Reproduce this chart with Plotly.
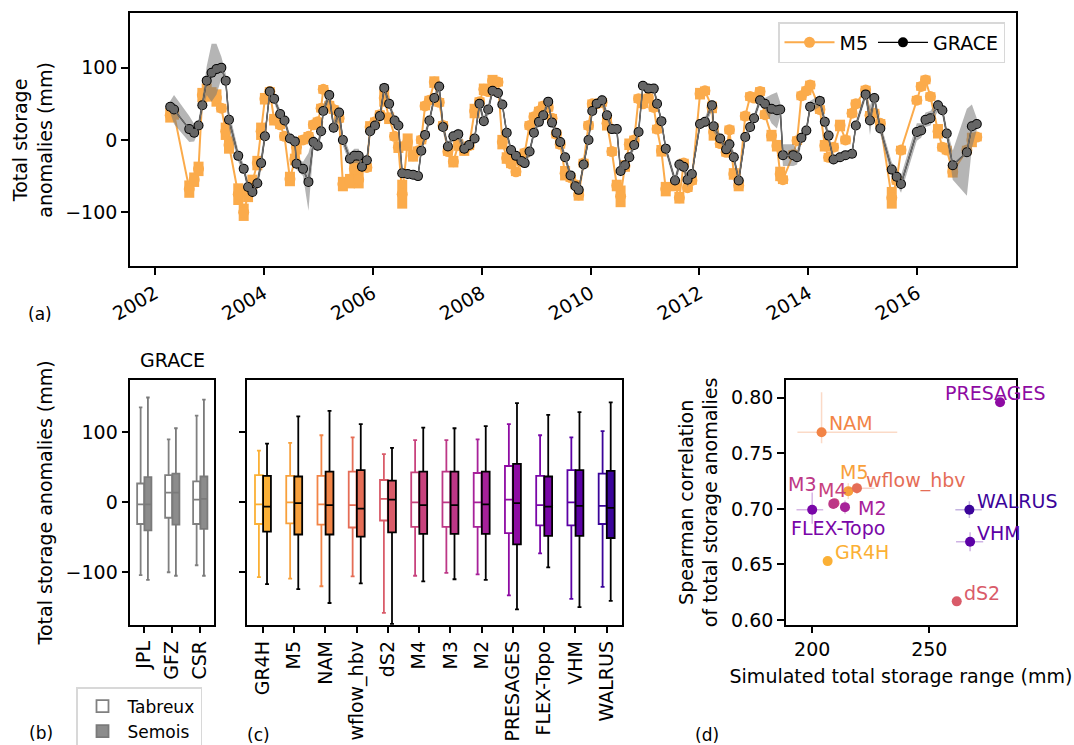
import pandas as pd
import plotly.graph_objects as go

# ---------------- data: panel (a) ----------------
grace_year = [2002.28, 2002.35, 2002.63, 2002.72, 2002.80, 2002.87, 2002.95, 2003.04, 2003.13, 2003.22,
              2003.30, 2003.36, 2003.53, 2003.63, 2003.71, 2003.79, 2003.88, 2003.95, 2004.02, 2004.11,
              2004.19, 2004.30, 2004.38, 2004.48, 2004.57, 2004.60, 2004.72, 2004.82, 2004.91, 2004.99,
              2005.05, 2005.09, 2005.20, 2005.28, 2005.38, 2005.45, 2005.58, 2005.66, 2005.74, 2005.80,
              2005.89, 2005.95, 2006.04, 2006.13, 2006.21, 2006.30, 2006.40, 2006.47, 2006.54, 2006.64,
              2006.74, 2006.83, 2006.89, 2006.96, 2007.04, 2007.13, 2007.22, 2007.29, 2007.38, 2007.48,
              2007.57, 2007.68, 2007.77, 2007.87, 2007.96, 2008.04, 2008.12, 2008.20, 2008.30, 2008.38,
              2008.46, 2008.54, 2008.63, 2008.73, 2008.79, 2008.88, 2008.96, 2009.05, 2009.13, 2009.22,
              2009.29, 2009.37, 2009.44, 2009.53, 2009.63, 2009.72, 2009.78, 2009.87, 2009.96, 2010.03,
              2010.11, 2010.21, 2010.30, 2010.39, 2010.48, 2010.55, 2010.63, 2010.71, 2010.80, 2010.88,
              2010.96, 2011.06, 2011.16, 2011.22, 2011.30, 2011.38, 2011.55, 2011.63, 2011.71, 2011.78,
              2011.86, 2012.01, 2012.10, 2012.23, 2012.26, 2012.38, 2012.49, 2012.55, 2012.63, 2012.72,
              2012.84, 2012.93, 2013.00, 2013.11, 2013.20, 2013.32, 2013.42, 2013.48, 2013.53, 2013.72,
              2013.79, 2013.87, 2013.96, 2014.03, 2014.21, 2014.30, 2014.37, 2014.46, 2014.58, 2014.68,
              2014.80, 2014.87, 2015.05, 2015.13, 2015.21, 2015.32, 2015.53, 2015.62, 2015.70, 2015.99,
              2016.07, 2016.15, 2016.24, 2016.38, 2016.46, 2016.54, 2016.65, 2016.91, 2017.00, 2017.09]

grace_tws = [46, 42, 15, 10, 20, 48, 82, 93, 98, 100,
             82, 28, -22, -40, -65, -72, -60, -32, 5, 67,
             57, 36, 27, 2, -2, -33, -40, -58, -3, -8,
             12, 40, 62, 17, 38, 0, -26, -22, -22, -37,
             -28, 12, 20, 33, 72, 50, 27, 20, -46, -47,
             -48, -50, -15, 7, 27, 58, 74, 18, -9, 5,
             8, -12, -7, 2, 50, 26, 42, 68, 65, 49,
             10, -14, -22, -29, -32, -16, 10, 25, 34, 53,
             24, 10, -3, -24, -49, -64, -69, -34, 0, 40,
             50, 55, 34, 15, 15, -43, -35, -24, -7, 11,
             75, 71, 71, 50, 26, -12, -56, -34, -37, -55,
             -47, 22, 25, 48, 19, 2, -13, -6, -24, -56,
             4, 18, 30, 55, 50, 43, 41, 42, -21, -21,
             -24, 3, 13, 46, 54, 25, 6, -27, -24, -21,
             -19, 20, 63, 27, 58, 16, -41, -51, -61, 11,
             13, 28, 30, 48, 41, 9, -35, -17, 19, 22]

grace_spread = [8, 20, 18, 12, 8, 10, 20, 40, 35, 15,
                10, 12, 8, 6, 8, 8, 8, 10, 8, 6,
                6, 6, 6, 6, 6, 8, 10, 40, 10, 8,
                8, 8, 6, 8, 10, 8, 8, 10, 10, 8,
                8, 8, 6, 6, 8, 6, 6, 6, 6, 6,
                6, 6, 6, 6, 6, 6, 8, 8, 6, 6,
                8, 8, 6, 6, 8, 6, 8, 6, 6, 6,
                6, 6, 6, 6, 6, 6, 6, 6, 6, 6,
                6, 6, 6, 6, 6, 6, 6, 6, 6, 6,
                6, 8, 6, 6, 6, 8, 6, 6, 6, 6,
                6, 6, 6, 6, 6, 6, 6, 8, 8, 10,
                6, 6, 6, 8, 8, 6, 6, 8, 8, 6,
                6, 6, 6, 6, 8, 20, 25, 10, 15, 15,
                10, 8, 8, 8, 8, 8, 6, 6, 6, 6,
                6, 6, 6, 20, 8, 8, 10, 10, 12, 12,
                10, 10, 10, 8, 8, 8, 20, 60, 30, 8]

m5_tws = [34, 36, -68, -55, -40, 62, 66, 63, 58, 44,
          12, -7, -75, -100, -76, -58, -32, 12, 57, 67,
          28, 21, 5, -54, -27, -10, 0, 5, 21, 25,
          44, 70, 48, 42, 30, -61, -57, -40, -55, -35,
          -38, 18, 25, 35, 58, 30, 5, -10, -75, -3,
          -22, -15, 0, 47, 55, 80, 52, 20, -16, -30,
          -7, -14, -8, 40, 53, 70, 67, 82, 80, -3,
          -25, -33, -44, -30, -18, 20, 32, 40, 47, 45,
          30, 8, -6, -46, -52, -62, -76, -32, 20, 50,
          50, 52, 23, -16, -63, -78, -36, -6, 0, 57,
          50, 58, 45, 15, -15, -68, -63, -80, -32, -66,
          -56, 64, 68, 45, 11, -5, -17, 14, -47, -63,
          33, 60, 58, 67, 35, 6, -8, -47, -55, -20,
          -1, 61, 68, 76, 42, -8, -24, -10, 20, 0,
          37, 50, 69, 34, 37, 23, -80, -56, -14, 55,
          74, 83, 60, 12, -10, -14, -44, -14, 0, 4]

m5_spread = [10, 8, 12, 10, 10, 10, 12, 10, 12, 6,
             12, 12, 15, 12, 10, 10, 10, 12, 8, 6,
             8, 6, 6, 10, 8, 10, 6, 6, 6, 6,
             6, 6, 6, 6, 6, 10, 10, 12, 12, 6,
             6, 8, 6, 6, 12, 8, 6, 8, 20, 12,
             8, 6, 6, 6, 6, 8, 6, 6, 6, 8,
             8, 8, 6, 10, 6, 8, 6, 8, 6, 10,
             8, 6, 6, 6, 6, 6, 6, 6, 6, 6,
             6, 6, 6, 10, 6, 6, 8, 6, 6, 6,
             6, 6, 10, 6, 8, 15, 8, 8, 6, 6,
             6, 6, 6, 6, 8, 10, 8, 8, 6, 6,
             6, 8, 6, 8, 12, 6, 6, 6, 8, 8,
             6, 6, 6, 6, 6, 8, 8, 10, 6, 6,
             6, 6, 6, 6, 6, 8, 6, 6, 8, 6,
             6, 6, 6, 6, 6, 6, 15, 6, 6, 6,
             6, 6, 6, 10, 6, 6, 8, 6, 10, 6]

# ---------------- data: panel (b) ----------------
grace_products = ["JPL", "GFZ", "CSR"]
grace_tab_lo = [-104, -100, -90]
grace_tab_q1 = [-31, -22, -31]
grace_tab_med = [-3, 14, 4]
grace_tab_q3 = [27, 39, 30]
grace_tab_hi = [136, 90, 124]
grace_sem_lo = [-111, -105, -105]
grace_sem_q1 = [-40, -32, -38]
grace_sem_med = [-3, 14, 5]
grace_sem_q3 = [36, 41, 37]
grace_sem_hi = [150, 106, 147]

# ---------------- data: panel (c) ----------------
models = ["GR4H", "M5", "NAM", "wflow_hbv", "dS2", "M4", "M3", "M2",
          "PRESAGES", "FLEX-Topo", "VHM", "WALRUS"]
model_colors = ["#fbb035", "#f8a03b", "#f28446", "#e56d56", "#d95b69", "#c8427d",
                "#bd3786", "#a7219a", "#8e0ba3", "#7906a8", "#5c01a6", "#3b049a"]
tab_lo = [-107, -109, -120, -106, -158, -105, -101, -103, -133, -73, -138, -121]
tab_q1 = [-31, -30, -32, -36, -26, -35, -35, -35, -44, -33, -33, -31]
tab_med = [-3, 0, -3, -4, 5, 0, 0, 0, 4, -4, 0, -5]
tab_q3 = [39, 38, 38, 44, 32, 43, 44, 42, 52, 38, 46, 41]
tab_hi = [74, 85, 96, 93, 69, 89, 89, 90, 112, 96, 93, 102]
sem_lo = [-117, -124, -144, -116, -174, -113, -110, -111, -153, -93, -150, -141]
sem_q1 = [-42, -46, -46, -49, -43, -45, -45, -45, -60, -48, -48, -51]
sem_med = [-6, -1, -4, -9, 4, -4, -4, -3, -1, -6, -5, -8]
sem_q3 = [38, 37, 44, 46, 31, 44, 44, 44, 55, 37, 46, 45]
sem_hi = [84, 123, 131, 112, 78, 107, 106, 109, 142, 125, 129, 143]

# ---------------- data: panel (d) ----------------
sc_range = [206.6, 215.4, 204.0, 219.1, 261.7, 209.5, 209.0, 214.0, 280.2, 200.0, 267.4, 267.1]
sc_corr = [0.653, 0.716, 0.769, 0.7187, 0.6168, 0.7052, 0.7045, 0.7016, 0.796, 0.6993, 0.6705, 0.6993]
sc_xerr_minus = [0, 3, 10.3, 4, 0, 0, 0, 0, 0, 6.7, 6, 6]
sc_xerr_plus = [0, 5, 32.3, 7.5, 0, 0, 0, 0, 0, 4.7, 5.6, 5.3]
sc_yerr_minus = [0, 0.007, 0.010, 0.005, 0, 0, 0, 0.006, 0, 0.0127, 0.0085, 0.0075]
sc_yerr_plus = [0, 0.007, 0.036, 0.005, 0, 0, 0, 0.006, 0, 0.0155, 0.0085, 0.0075]
# label offsets in pixels (styling for annotation placement)
lab_dx = [5, -10, 5, 7, 5, -18, -47, 11, -57, -23, 5, 6]
lab_dy = [9, 19, 9, 8, 8, 13, 20, -1, 9, -18, 9, 9]


def to_date(y):
    yr = int(y)
    return pd.Timestamp(yr, 1, 1) + pd.Timedelta(days=(y - yr) * 365.25)


dates = [to_date(y) for y in grace_year]
band_hi = [v + s for v, s in zip(grace_tws, grace_spread)]
band_lo = [v - s for v, s in zip(grace_tws, grace_spread)]

FONT = "DejaVu Sans"
FS = 19
ORANGE = "#fba238"
BOXW = 0.25          # box width in category units
OFF = 0.13           # half-distance between paired boxes

fig = go.Figure()

# ---- panel (a)
fig.add_trace(go.Scatter(x=dates, y=m5_tws, mode="lines+markers", name="M5",
                         line=dict(color=ORANGE, width=2),
                         marker=dict(color=ORANGE, size=11),
                         error_y=dict(type="data", array=m5_spread, color=ORANGE, thickness=10, width=0),
                         opacity=0.9, legend="legend", legendrank=1, xaxis="x", yaxis="y"))
fig.add_trace(go.Scatter(x=dates, y=band_hi, mode="lines", line=dict(width=0, color="rgba(0,0,0,0)"),
                         showlegend=False, hoverinfo="skip", xaxis="x", yaxis="y"))
fig.add_trace(go.Scatter(x=dates, y=band_lo, mode="lines", line=dict(width=0, color="rgba(0,0,0,0)"),
                         fill="tonexty", fillcolor="rgba(120,120,120,0.55)",
                         showlegend=False, hoverinfo="skip", xaxis="x", yaxis="y"))
fig.add_trace(go.Scatter(x=dates, y=grace_tws, mode="lines+markers", name="GRACE",
                         line=dict(color="black", width=1.2),
                         marker=dict(color="black", size=10),
                         legend="legend", legendrank=2, xaxis="x", yaxis="y"))
fig.add_trace(go.Scatter(x=dates, y=grace_tws, mode="lines+markers", showlegend=False,
                         line=dict(color="#6a6a6a", width=1.5),
                         marker=dict(color="#666666", size=8),
                         xaxis="x", yaxis="y"))

# ---- panel (b)
gidx = list(range(len(grace_products)))
fig.add_trace(go.Box(x=[i - OFF for i in gidx], q1=grace_tab_q1, median=grace_tab_med, q3=grace_tab_q3,
                     lowerfence=grace_tab_lo, upperfence=grace_tab_hi,
                     name="Tabreux", fillcolor="white", width=BOXW,
                     line=dict(color="#808080", width=1.8), whiskerwidth=0.5,
                     legend="legend2", legendrank=1, xaxis="x2", yaxis="y2"))
fig.add_trace(go.Box(x=[i + OFF for i in gidx], q1=grace_sem_q1, median=grace_sem_med, q3=grace_sem_q3,
                     lowerfence=grace_sem_lo, upperfence=grace_sem_hi,
                     name="Semois", fillcolor="#8c8c8c", width=BOXW,
                     line=dict(color="#7a7a7a", width=1.8), whiskerwidth=0.5,
                     legend="legend2", legendrank=2, xaxis="x2", yaxis="y2"))

# ---- panel (c)
for i, m in enumerate(models):
    fig.add_trace(go.Box(x=[i - OFF], q1=[tab_q1[i]], median=[tab_med[i]], q3=[tab_q3[i]],
                         lowerfence=[tab_lo[i]], upperfence=[tab_hi[i]], name=m,
                         fillcolor="white", showlegend=False, width=BOXW,
                         line=dict(color=model_colors[i], width=1.8), whiskerwidth=0.5,
                         xaxis="x3", yaxis="y3"))
    fig.add_trace(go.Box(x=[i + OFF], q1=[sem_q1[i]], median=[sem_med[i]], q3=[sem_q3[i]],
                         lowerfence=[sem_lo[i]], upperfence=[sem_hi[i]], name=m,
                         fillcolor=model_colors[i], showlegend=False, width=BOXW,
                         line=dict(color="black", width=1.8), whiskerwidth=0.5,
                         xaxis="x3", yaxis="y3"))


def rgba(hexc, a):
    h = hexc.lstrip("#")
    return "rgba(%d,%d,%d,%.2f)" % (int(h[0:2], 16), int(h[2:4], 16), int(h[4:6], 16), a)


# ---- panel (d)
for i, m in enumerate(models):
    fig.add_trace(go.Scatter(x=[sc_range[i]], y=[sc_corr[i]], mode="markers", showlegend=False,
                             marker=dict(color=model_colors[i], size=10),
                             error_x=dict(type="data", symmetric=False, array=[sc_xerr_plus[i]],
                                          arrayminus=[sc_xerr_minus[i]], color=rgba(model_colors[i], 0.3),
                                          thickness=1.5, width=0),
                             error_y=dict(type="data", symmetric=False, array=[sc_yerr_plus[i]],
                                          arrayminus=[sc_yerr_minus[i]], color=rgba(model_colors[i], 0.3),
                                          thickness=1.5, width=0),
                             xaxis="x4", yaxis="y4"))

annotations = []
for i, m in enumerate(models):
    annotations.append(dict(x=sc_range[i], y=sc_corr[i], xref="x4", yref="y4", text=m,
                            showarrow=False, xanchor="left", yanchor="middle",
                            xshift=lab_dx[i], yshift=lab_dy[i],
                            font=dict(family=FONT, size=FS, color=model_colors[i])))

for txt, px, py in [("(a)", 40, 314), ("(b)", 41, 733), ("(c)", 258, 735), ("(d)", 707, 735)]:
    annotations.append(dict(x=px / 1074, y=1 - py / 745, xref="paper", yref="paper", text=txt,
                            showarrow=False, xanchor="center", yanchor="middle",
                            font=dict(family=FONT, size=17, color="black")))
annotations.append(dict(x=172 / 1074, y=1 - 360 / 745, xref="paper", yref="paper", text="GRACE",
                        showarrow=False, xanchor="center", yanchor="middle",
                        font=dict(family=FONT, size=FS, color="black")))

axis_common = dict(showline=True, mirror=True, linecolor="black", linewidth=1.5,
                   ticks="outside", ticklen=7, tickwidth=1.5, tickcolor="black",
                   showgrid=False, zeroline=False, automargin=False,
                   tickfont=dict(family=FONT, size=FS, color="black"))

ya = [0.1615, 0.4899]
fig.update_layout(
    width=1074, height=745,
    margin=dict(l=0, r=0, t=0, b=0, autoexpand=False),
    paper_bgcolor="white", plot_bgcolor="white",
    font=dict(family=FONT, size=FS, color="black"),
    boxmode="overlay",
    annotations=annotations,
    xaxis=dict(domain=[0.1210, 0.9460], anchor="y", type="date",
               range=[to_date(2001.54), to_date(2017.81)],
               tick0="2002-01-01", dtick="M24", tickformat="%Y", tickangle=-30, **axis_common),
    yaxis=dict(domain=[0.6423, 0.9820], anchor="x", range=[-175, 175], tickvals=[-100, 0, 100],
               ticktext=["\u2212100", "0", "100"],
               title=dict(text="Total storage<br>anomalies (mm)", standoff=8,
                          font=dict(family=FONT, size=FS)), **axis_common),
    xaxis2=dict(domain=[0.1213, 0.1995], anchor="y2", range=[-0.5, 2.5],
                tickvals=gidx, ticktext=grace_products, tickangle=-90, **axis_common),
    yaxis2=dict(domain=ya, anchor="x2", range=[-175, 175], tickvals=[-100, 0, 100],
                ticktext=["\u2212100", "0", "100"],
                title=dict(text="Total storage anomalies (mm)", standoff=8,
                           font=dict(family=FONT, size=FS)), **axis_common),
    xaxis3=dict(domain=[0.2303, 0.5794], anchor="y3", range=[-0.5, 11.5],
                tickvals=list(range(len(models))), ticktext=models, tickangle=-90, **axis_common),
    yaxis3=dict(domain=ya, anchor="x3", range=[-175, 175], tickvals=[-100, 0, 100],
                showticklabels=False, **axis_common),
    xaxis4=dict(domain=[0.7318, 0.9460], anchor="y4", range=[188.8, 287], tickvals=[200, 250],
                title=dict(text="Simulated total storage range (mm)", standoff=10,
                           font=dict(family=FONT, size=FS)), **axis_common),
    yaxis4=dict(domain=ya, anchor="x4", range=[0.5958, 0.816],
                tickvals=[0.60, 0.65, 0.70, 0.75, 0.80],
                ticktext=["0.60", "0.65", "0.70", "0.75", "0.80"],
                title=dict(text="Spearman correlation<br>of total storage anomalies", standoff=8,
                           font=dict(family=FONT, size=FS)), **axis_common),
    legend=dict(x=1005 / 1074, y=1 - 22 / 745, xanchor="right", yanchor="top", orientation="h",
                traceorder="normal", itemwidth=50,
                bgcolor="white", bordercolor="#d8d8d8", borderwidth=1.5,
                font=dict(family=FONT, size=FS)),
    legend2=dict(x=76 / 1074, y=1 - 687 / 745, xanchor="left", yanchor="top", orientation="v",
                 traceorder="normal", itemwidth=40,
                 bgcolor="white", bordercolor="#d8d8d8", borderwidth=1.5, tracegroupgap=0,
                 font=dict(family=FONT, size=17)),
)

fig.write_html("out.html", config={"displayModeBar": False},
               post_script="document.body.style.margin='0px';")
